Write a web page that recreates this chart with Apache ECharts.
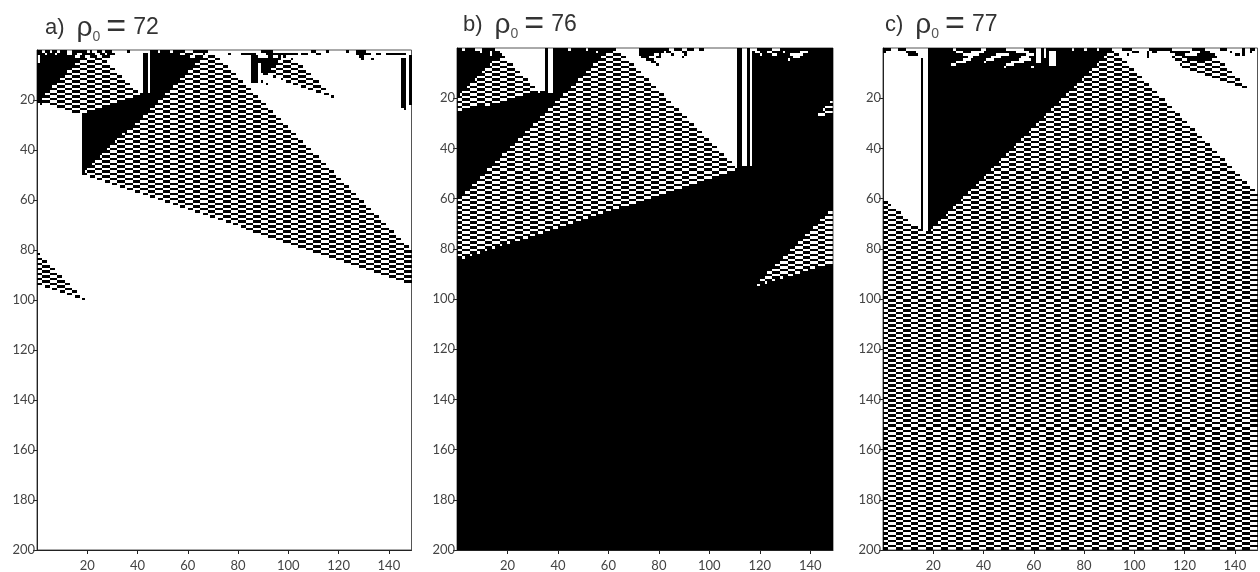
<!DOCTYPE html>
<html><head><meta charset="utf-8">
<style>html,body{margin:0;padding:0;background:#fff}#c{width:1260px;height:572px}</style>
<script src="https://cdn.jsdelivr.net/npm/echarts@6/dist/echarts.min.js"></script>
</head><body><div id="c"></div>
<script>
const columnCount = 149;
const rowCount = 200;
const xTickValues = [20,40,60,80,100,120,140];
const yTickValues = [20,40,60,80,100,120,140,160,180,200];
const panelNames = ['a)','b)','c)'];
const rhoValues = ['72','76','77'];
// repeating 3x1 brick texture of the striped wedges
const brickTile = ['111000','000111'];

// painted in order: [kind, polygon of [column,row]] ; kind W white, B black, S striped
const backgroundA = 'W';
const regionsA = [
 ['B',[[0,0],[22,0],[0,20.5]]],
 ['S',[[0.5,20.5],[18,3],[27,3],[41.5,17.5],[18,25.5]]],
 ['B',[[18,25.5],[41.5,17.5],[45,17.5],[45,0],[69,0],[18,50]]],
 ['B',[[42,1],[44,1],[44,17.5],[42,17.5]]],
 ['S',[[18,49.5],[68,1],[71,1],[149,79],[149,93.5]]],
 ['S',[[0,80],[20.5,100.5],[0,93.5]]],
 ['S',[[90,9],[97,4],[103,4],[118.5,19],[106,15]]],
 ['B',[[88,3],[98,3],[90,11]]],
 ['B',[[85,2],[88,2],[88,13],[85,13]]],
 ['B',[[145,3],[147,3],[147,23],[145,23]]],
 ['B',[[148,2],[149,2],[149,22],[148,22]]]
];
const blackSpecksA = [[1,18,22],[1,25,26],[1,28,30],[1,37,37],[2,20,23],[2,26,27],[2,29,31],[3,22,24],[3,27,29],[4,24,24],[4,26,26],[1,37,37],[22,2,2],[21,1,2],
 [2,77,77],[2,82,84],[2,85,87],[1,90,94],[2,92,104],[3,93,94],[3,97,97],[3,99,99],[4,97,97],[4,102,102],[2,106,108],[1,110,111],[2,112,113],[1,116,116],[1,124,124],[1,128,131],[2,128,132],[3,129,130],[4,130,130],[2,133,133],[4,134,134],[2,136,137],[2,140,142],[2,143,147],[24,147,147],[13,90,90],[14,92,92]];
const whiteSpecksA = [[1,3,3],[1,6,6],[1,9,9],[1,13,14],[2,4,4],[2,8,8],[2,13,14],[3,1,1],[4,1,1],[5,1,1],[3,16,17],[2,17,18],[1,21,21],
 [1,49,49],[1,54,54],[2,58,59],[1,60,62],[2,63,66],[3,62,63],[1,71,71],[2,68,69],[3,72,73]];

const backgroundB = 'B';
const regionsB = [
 ['W',[[15,0],[35,0],[35,17.5],[33,17.5],[19,3]]],
 ['W',[[36,0],[38,0],[38,18],[36,18]]],
 ['S',[[0,19.5],[15,4],[20,4],[33.5,17.5],[0,25.5]]],
 ['W',[[62,0],[111.5,0],[111.5,47.5],[64,1]]],
 ['W',[[113.5,0],[115,0],[115,47.5],[113.5,47.5]]],
 ['W',[[116.5,0],[117.5,0],[117.5,47.5],[116.5,47.5]]],
 ['S',[[0,60],[60,1],[64,1],[112,48],[0,84.5]]],
 ['S',[[142,28],[149,21],[149,25.5]]],
 ['S',[[118,95],[149,63.5],[149,85.5]]]
];
const blackSpecksB = [[1,73,84],[2,73,82],[3,73,78],[3,81,81],[4,74,76],[5,76,78],[6,78,79],[7,80,80],[4,80,81],[2,84,85],[3,86,86],[1,87,89],[2,90,91],[3,91,91],[4,90,90],[1,92,94],[1,97,98],[28,143,143]];
const whiteSpecksB = [[1,3,3],[1,8,10],[2,10,10],[2,14,14],[3,14,14],[1,16,16],[1,45,45],[1,52,52],[2,56,56],[3,60,60],[1,64,64],[1,66,68],[1,126,128],[2,130,130],[2,124,125],[3,126,127],[3,121,121],[2,137,139],[3,133,137],[4,134,136],[5,132,132],[1,118,119],[2,119,120]];

const backgroundC = 'S';
const regionsC = [
 ['W',[[0,0],[18.5,0],[18.5,73],[15.5,73],[0,59.5]]],
 ['B',[[15.5,4],[16.5,4],[16.5,73],[15.5,73]]],
 ['B',[[18.5,0],[91,0],[18.5,73]]],
 ['W',[[91,0],[149,0],[149,57.5]]],
 ['S',[[115,3],[133,3],[146,17],[121,9]]]
];
const blackSpecksC = [[1,1,3],[1,7,9],[2,10,13],[3,11,14],[2,1,1],[1,96,99],[2,100,102],[3,98,98],[2,106,106],[3,106,106],[4,106,106],[1,107,115],[2,108,109],[2,115,122],[3,117,120],[1,124,128],[2,127,130],[3,126,132],[4,120,131],[5,122,131],[1,135,137],[2,139,139],[3,141,142],[1,144,144],[2,144,144],[3,144,144],[2,147,147],[1,147,148]];
const whiteSpecksC = [[1,29,29],[2,30,32],[2,36,40],[3,33,38],[4,35,36],[5,33,35],[6,30,33],[7,28,29],[1,40,41],
 [3,46,50],[4,44,47],[5,42,44],[6,41,41],
 [1,50,56],[2,54,58],[3,58,60],[4,56,58],[5,55,59],[6,52,56],[7,50,52],[8,49,49],
 [1,62,63],[2,62,63],[3,62,63],[4,62,63],[5,62,63],[6,62,63],[1,65,65],[2,65,65],[3,65,65],[4,65,65],
 [2,67,69],[3,67,69],[4,67,69],[5,67,69],[6,67,69],[7,67,69],[1,76,76],[1,81,81],[1,86,86],[8,60,60]];

const panels = [
 {bg:backgroundA,regions:regionsA,black:blackSpecksA,white:whiteSpecksA,left:37,top:50,width:374.5,height:502,titleX:45,titleY:11},
 {bg:backgroundB,regions:regionsB,black:blackSpecksB,white:whiteSpecksB,left:457,top:48,width:376,height:503,titleX:463,titleY:8},
 {bg:backgroundC,regions:regionsC,black:blackSpecksC,white:whiteSpecksC,left:883,top:48,width:374.5,height:504,titleX:885,titleY:8}
];

function inside(poly,x,y){let s=false;for(let i=0,j=poly.length-1;i<poly.length;j=i++){
  const a=poly[i],b=poly[j];
  if((a[1]>y)!==(b[1]>y)&&x<(b[0]-a[0])*(y-a[1])/(b[1]-a[1])+a[0])s=!s;}return s;}
function cellValue(kind,c,r){if(kind==='W')return 0;if(kind==='B')return 1;return +brickTile[r%2][c%brickTile[0].length];}
function buildRuns(p){
  const cells=[];
  for(let r=1;r<=rowCount;r++){const line=[];
    for(let c=1;c<=columnCount;c++){let k=p.bg;
      for(const reg of p.regions){if(inside(reg[1],c-0.5,r-0.5))k=reg[0];}
      line.push(cellValue(k,c,r));}
    cells.push(line);}
  p.black.forEach(s=>{for(let c=s[1];c<=s[2];c++)cells[s[0]-1][c-1]=1;});
  p.white.forEach(s=>{for(let c=s[1];c<=s[2];c++)cells[s[0]-1][c-1]=0;});
  const runs=[];
  cells.forEach((line,i)=>{let start=-1;
    for(let c=0;c<=line.length;c++){const v=c<line.length?line[c]:0;
      if(v&&start<0)start=c;
      if(!v&&start>=0){runs.push([start,c,i]);start=-1;}}});
  return runs;
}
const renderCell=(params,api)=>{
  const a=api.coord([api.value(0),api.value(2)]);
  const b=api.coord([api.value(1),api.value(2)+1]);
  const x=Math.round(a[0]),y=Math.round(a[1]);
  return {type:'rect',shape:{x:x,y:y,width:Math.round(b[0])-x,height:Math.round(b[1])-y},
    style:{fill:'#000',stroke:null},silent:true};
};
const axisFont={fontFamily:'Lato',fontSize:13,color:'#444'};
const t={fontFamily:'Liberation Sans',fontWeight:'normal',color:'#333'};
const option={animation:false,backgroundColor:'#fff',
  title:panels.map((p,i)=>({left:p.titleX,top:p.titleY,padding:0,
    text:`{a|${panelNames[i]}}{r|ρ}{s|0}{e|=}{v|${rhoValues[i]}}`,
    textStyle:{fontWeight:'normal',rich:{
      a:Object.assign({fontSize:22,padding:[0,12,0,0]},t),
      r:Object.assign({fontSize:28},t),
      s:Object.assign({fontSize:14,padding:[18,6,0,0]},t,{color:'#555'}),
      e:Object.assign({fontSize:34,padding:[0,7,0,0]},t),
      v:Object.assign({fontSize:23},t)
    }}})),
  grid:panels.map(p=>({left:p.left,top:p.top,width:p.width,height:p.height,show:true,borderColor:'#555',borderWidth:1,backgroundColor:'#fff',containLabel:false})),
  xAxis:panels.map((p,i)=>({type:'value',gridIndex:i,min:0,max:columnCount,position:'bottom',splitLine:{show:false},
    axisLine:{show:true,onZero:false,lineStyle:{color:'#222'}},
    axisTick:{show:true,length:4,customValues:xTickValues,lineStyle:{color:'#222'}},
    axisLabel:Object.assign({customValues:xTickValues,margin:9,hideOverlap:false},axisFont)})),
  yAxis:panels.map((p,i)=>({type:'value',gridIndex:i,min:0,max:rowCount,inverse:true,splitLine:{show:false},
    axisLine:{show:true,onZero:false,lineStyle:{color:'#222'}},
    axisTick:{show:true,length:4,customValues:yTickValues,lineStyle:{color:'#222'}},
    axisLabel:Object.assign({customValues:yTickValues,margin:2,padding:[2,0,0,0],hideOverlap:false},axisFont)})),
  series:panels.map((p,i)=>({type:'custom',xAxisIndex:i,yAxisIndex:i,coordinateSystem:'cartesian2d',
    renderItem:renderCell,data:buildRuns(p),encode:{x:[0,1],y:2},progressive:0,clip:true,silent:true,animation:false}))
};
const chart=echarts.init(document.getElementById('c'),null,{renderer:'canvas'});
chart.setOption(option);
</script></body></html>
